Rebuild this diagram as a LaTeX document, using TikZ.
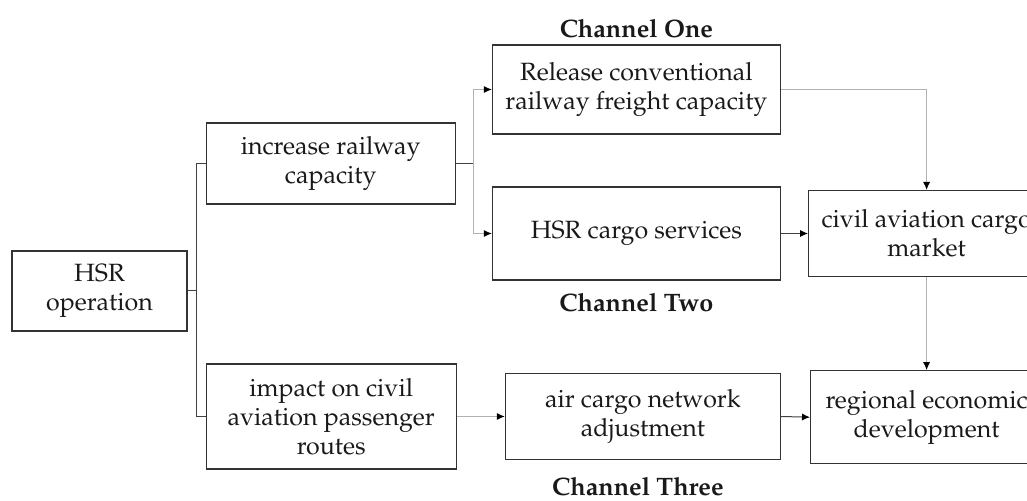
\documentclass[tikz,border=0pt]{standalone}
\usepackage[T1]{fontenc}
\usepackage{mathpazo}
\usepackage{xcolor}
\usepackage{tikz}
\usetikzlibrary{positioning}
\usetikzlibrary{arrows.meta}

\begin{document}
\begin{tikzpicture}[
        box/.style = {rectangle, draw = black!80, line width = 0.6pt, align = center, inner sep = 2pt,
                      font = \fontsize{12.5pt}{14.5pt}\selectfont, text = black!90},
        channel/.style = {inner sep = 0pt, font = \fontsize{12.6pt}{14.5pt}\selectfont\bfseries, text = black!90},
        link/.style = {draw = black!75, line width = 0.5pt},
        faint/.style = {draw = black!30, line width = 0.5pt},
        tip/.style = {-{Latex[length = 4pt, width = 3.6pt, color = black]}}
    ]
        \node[box, minimum width = 87.5pt, minimum height = 40pt] (hsr) {HSR\\operation};
        \useasboundingbox (-49.75pt,-105pt) rectangle (463.75pt,145.5pt);
        \node[box, minimum width = 124.5pt, minimum height = 40.5pt, right = 9pt of hsr, yshift = 63.75pt] (increase) {increase railway\\capacity};
        \node[box, minimum width = 125pt, minimum height = 52.5pt, right = 9pt of hsr, yshift = -62.75pt] (impact) {impact on civil\\aviation passenger\\routes};
        \node[box, minimum width = 144pt, minimum height = 44.5pt, right = 18pt of increase, yshift = 37pt] (release) {Release conventional\\railway freight capacity};
        \node[box, minimum width = 144pt, minimum height = 46.5pt, right = 18pt of increase, yshift = -35pt] (cargo) {HSR cargo services};
        \node[box, minimum width = 118pt, minimum height = 43pt, right = 13.5pt of cargo] (market) {civil aviation cargo\\market};
        \node[box, minimum width = 137.5pt, minimum height = 43pt, right = 24pt of impact] (network) {air cargo network\\adjustment};
        \node[box, minimum width = 116pt, minimum height = 46.5pt, below = 46.5pt of market] (regional) {regional economic\\development};
        \node[channel, above = 3pt of release] (one) {Channel One};
        \node[channel, below = 6pt of cargo] (two) {Channel Two};
        \node[channel, below = 8.5pt of network, xshift = -2.5pt] (three) {Channel Three};
        % HSR operation splits in two
        \draw[link] (hsr.east) -- ++(4.5pt,0) coordinate (trunk);
        \draw[link] (increase.west) -| (trunk) |- (impact.west);
        % railway capacity splits into channel one and two
        \draw[link] (increase.east) -- ++(9pt,0) coordinate (fork);
        \draw[faint, tip] (fork) |- (release.west);
        \draw[faint, tip] (fork) |- (cargo.west);
        \draw[faint, tip] (release.east) -| (market.north);
        \draw[link, tip] (cargo.east) -- (market.west);
        \draw[faint, tip] (market.south) -- (regional.north);
        % channel three
        \draw[faint, tip] (impact.east) -- (network.west);
        \draw[link, tip] (network.east) -- (regional.west);
    \end{tikzpicture}
\end{document}
